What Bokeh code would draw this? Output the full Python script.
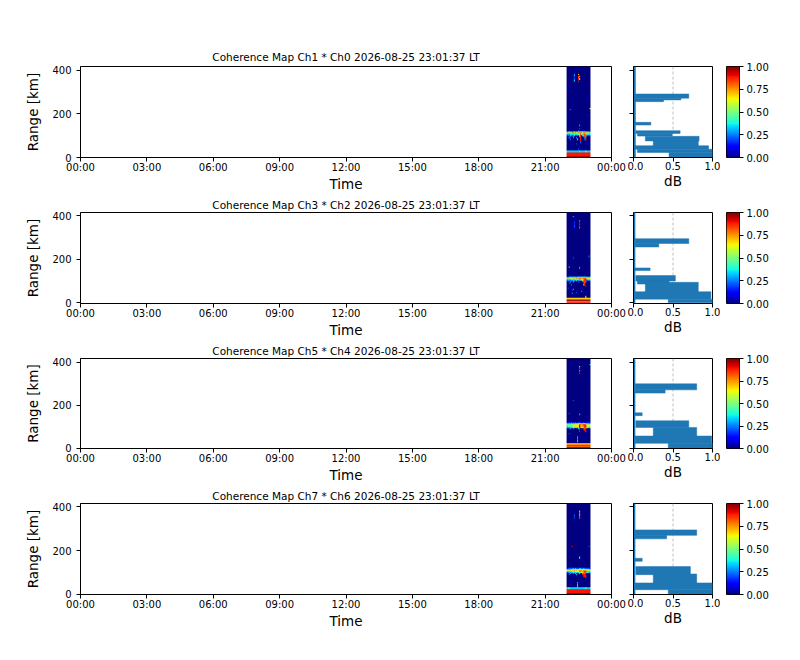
import numpy as np
from bokeh.plotting import figure
from bokeh.layouts import column, row
from bokeh.models import LinearColorMapper, FixedTicker, Span, Range1d, NumeralTickFormatter
from bokeh.embed import file_html
from bokeh.resources import INLINE

FONT = "DejaVu Sans"

# ---------------- data ----------------
hour_ticks = [0, 3, 6, 9, 12, 15, 18, 21, 24]
hour_labels = ["00:00", "03:00", "06:00", "09:00", "12:00", "15:00", "18:00", "21:00", "00:00"]
range_ticks = [0, 200, 400]
db_ticks = [0.0, 0.5, 1.0]
cbar_ticks = [0.0, 0.25, 0.5, 0.75, 1.0]

titles = [
    "Coherence Map Ch1 * Ch0 2026-08-25 23:01:37 LT",
    "Coherence Map Ch3 * Ch2 2026-08-25 23:01:37 LT",
    "Coherence Map Ch5 * Ch4 2026-08-25 23:01:37 LT",
    "Coherence Map Ch7 * Ch6 2026-08-25 23:01:37 LT",
]
y_limits = [(0, 417), (-3, 414), (-1, 418), (-1, 416)]

# time columns of the coherence block (hours) and range gates (km)
block_start_h = 21.97
block_step_h = 0.045
n_cols = 24
gate_km = 5
n_gates = 84

# coherence level per cell, one digit per time column: digit / 9
# rows not listed are background level 0
coh_ch1_ch0 = {
    0: "999999999999999999999999", 1: "888888888888888888888888",
    2: "888888888888888888888888", 3: "888888888888888888888888",
    4: "888888888888888888888888", 5: "333333333333433333633333",
    6: "000000000001000000100000", 7: "000000000002000000000000",
    8: "010000000000000001000000", 9: "000000000000100000000000",
    11: "000100000000000000000100", 12: "000000000200000000000000",
    13: "100000000000020000001000", 14: "000000000000020000000000",
    15: "000000100000080000900000", 16: "000200000030080002800000",
    17: "003000200300180003800100", 18: "100200300000380028710000",
    19: "020320230120380368720200", 20: "232333343334586378733332",
    21: "333343434444676577644333", 22: "566655767667777677766556",
    23: "233332343334445444433322", 24: "001000100002000101000000",
    26: "000000000000200000000000", 28: "000000000000300000000000",
    29: "000000000000200000000000", 30: "000001000000000000000100",
    32: "000000000000100000000000", 35: "010000000000000000000000",
    38: "000000000000000000001000", 43: "000700000000000000000010",
    44: "000000000000000000000060", 46: "000001000000000000000000",
    55: "000000000000000000010000", 62: "010000000000000000000000",
    69: "000000020008000000000000", 70: "000000030009000000000000",
    71: "000000020008600000000000", 72: "000000010007000000000000",
    73: "000000020008600000000000", 74: "000000030009000000000000",
    75: "000000020006000000000000", 76: "000000010000000000000000",
    80: "000000000001000000000000",
}
coh_ch3_ch2 = {
    0: "888888888888888888888888", 1: "777777777777777777777777",
    2: "999999999999999999999999", 3: "777777777777777777777777",
    4: "666666666666666666666666", 5: "000000000000000000600000",
    8: "000003000000000000000000", 9: "000000000200000000000000",
    10: "001000000000003000000000", 11: "000002000010000000000000",
    12: "000000300000000100000000", 13: "020000000000000000000000",
    14: "000100000000000000000000", 15: "000000000000000000800000",
    16: "100020000000000078000000", 17: "002000100000000088100000",
    18: "000300200002000087800000", 19: "120220320201000688710000",
    20: "233233333433546478823332", 21: "333444445444776578844444",
    22: "566665676767777777766665", 23: "223333343334445444433333",
    24: "000100000001000100000000", 31: "000000000000400000000000",
    32: "006000000000200000000000", 40: "000000200000000000000000",
    41: "000000100000000000000200", 42: "000000100000000000000200",
    67: "000000010000000000000000", 68: "000000010000700000000000",
    69: "000000020000800000000000", 70: "000000020000900000000000",
    71: "000000010000800000000000", 72: "000000020000900000000000",
    73: "000000010000800000000000", 74: "000000010000700000000000",
    78: "000000300000000000000000",
}
coh_ch5_ch4 = {
    0: "999999999999999999999999", 1: "777777777777777777777777",
    2: "888888888888888888888888", 3: "777777777777777777777777",
    4: "666666666666666666666666",
    6: "000000000030000000000000", 7: "000000000020000000000000",
    8: "000000000030000000100000", 9: "000000000020000000000000",
    10: "010000000030000000000000", 11: "000000000000100000000000",
    13: "002000000000000000000000", 14: "000000000000000000100000",
    15: "000000000000800000800000", 16: "000000000000900008800000",
    17: "001000100000800088100000", 18: "100300200003800087800000",
    19: "232333443434876678744333", 20: "345444655656976778855555",
    21: "454455666666877788766555", 22: "333343434444544545433333",
    23: "112121212112211121112111", 24: "000000000000000000000100",
    31: "000000000000300000000000", 32: "002000000000200000000000",
    44: "000000200000000000000000", 45: "000000100000000000000000",
    69: "000000000000800000000000", 70: "000000000000900000000000",
    71: "000000000000800000000000", 72: "000000000000700000000000",
    73: "000000000000900000000000", 74: "000000000000800000000000",
    75: "000000000000600000000000", 77: "000000000000000000000030",
}
coh_ch7_ch6 = {
    0: "999999999999999999999999", 1: "888888888888888888888888",
    2: "888888888888888888888888", 3: "888888888888888888888888",
    4: "888888888888888888888888", 5: "344333333333333333633333",
    6: "000000000030000000000000", 7: "000000000030000000000000",
    8: "000000000030000000000000", 9: "000000000020000000000000",
    10: "000000000030000000000000", 11: "000100000000000000000000",
    13: "000000000000100000000000", 14: "000000000000000000100000",
    15: "000000000000000000800000", 16: "000000000000000088800000",
    17: "002000100300100888100000", 18: "000300203000300787800000",
    19: "123233333333545678734322", 20: "333434545555776778843333",
    21: "565566676666777677766556", 22: "333344454445655565444433",
    23: "122222323222332232222211", 24: "011111111111111111111101",
    32: "000000000000300000000000", 33: "000000000000400000000000",
    34: "000000000000200000000000", 43: "000008000000000000000200",
    69: "000000020000700000000000", 70: "000000000000800000000000",
    71: "000000020000700000000000", 72: "000000000000600000000000",
    73: "000000010000800000000000", 74: "000000000000700000000000",
    75: "000000000000600000000000",
}

# profile bands: range bottom/top (km), value low/high
prof_ch1_ch0 = {"r0": [0, 272, 264, 256, 149, 110, 98, 76, 51, 38, 23, 0],
                "r1": [415, 291, 272, 264, 161, 123, 110, 97, 76, 54, 38, 23],
                "lo": [0.0, 0.02, 0.02, 0.02, 0.01, 0.03, 0.05, 0.15, 0.25, 0.02, 0.05, 0.45],
                "hi": [0.025, 0.70, 0.60, 0.38, 0.22, 0.59, 0.49, 0.83, 0.82, 0.95, 1.0, 1.0]}
prof_ch3_ch2 = {"r0": [0, 272, 256, 148, 100, 86, 45, 17, 0],
                "r1": [415, 294, 272, 160, 125, 100, 94, 51, 17],
                "lo": [0.0, 0.02, 0.02, 0.01, 0.03, 0.05, 0.15, 0.02, 0.44],
                "hi": [0.02, 0.70, 0.32, 0.21, 0.53, 0.45, 0.82, 0.98, 1.0]}
prof_ch5_ch4 = {"r0": [0, 272, 257, 152, 97, 51, 23, 0],
                "r1": [415, 300, 272, 165, 128, 97, 57, 23],
                "lo": [0.0, 0.02, 0.02, 0.01, 0.03, 0.25, 0.02, 0.44],
                "hi": [0.02, 0.80, 0.40, 0.11, 0.70, 0.80, 0.99, 1.0]}
prof_ch7_ch6 = {"r0": [0, 270, 254, 151, 90, 44, 21, 0],
                "r1": [415, 295, 270, 165, 127, 93, 52, 21],
                "lo": [0.0, 0.02, 0.02, 0.01, 0.03, 0.25, 0.02, 0.44],
                "hi": [0.02, 0.80, 0.42, 0.11, 0.72, 0.80, 1.0, 1.0]}

coh_maps = [coh_ch1_ch0, coh_ch3_ch2, coh_ch5_ch4, coh_ch7_ch6]
profiles = [prof_ch1_ch0, prof_ch3_ch2, prof_ch5_ch4, prof_ch7_ch6]

# ---------------- colormap (jet) ----------------
def jet_palette(n=256):
    x = np.linspace(0, 1, n)
    r = np.interp(x, [0, 0.35, 0.66, 0.89, 1], [0, 0, 1, 1, 0.5])
    g = np.interp(x, [0, 0.125, 0.375, 0.64, 0.91, 1], [0, 0, 1, 1, 0, 0])
    b = np.interp(x, [0, 0.11, 0.34, 0.65, 1], [0.5, 1, 1, 0, 0])
    return ["#%02x%02x%02x" % (int(round(255 * a)), int(round(255 * c)), int(round(255 * d)))
            for a, c, d in zip(r, g, b)]

JET = jet_palette()


def grid_from_rows(rows):
    arr = np.zeros((n_gates, n_cols))
    for r, s in rows.items():
        arr[r, :] = [int(ch) / 9.0 for ch in s]
    return arr


def style_axes(p):
    p.outline_line_color = "black"
    p.outline_line_alpha = 1.0
    p.outline_line_width = 1
    p.xgrid.visible = False
    p.ygrid.visible = False
    for ax in p.axis:
        ax.axis_line_color = "black"
        ax.major_tick_line_color = "black"
        ax.minor_tick_line_color = None
        ax.major_tick_in = 0
        ax.major_tick_out = 4
        ax.major_label_text_font = FONT
        ax.major_label_text_font_size = "10px"
        ax.major_label_text_color = "black"
        ax.axis_label_text_font = FONT
        ax.axis_label_text_font_size = "13.5px"
        ax.axis_label_text_font_style = "normal"
        ax.axis_label_text_color = "black"


# layout borders (px)
tops = [66, 17, 16, 17]
bottoms = [38, 38, 38, 44]
title_standoffs = [7, 3, 3, 3]
FRAME_H = 91
MAIN_W = 531
PROF_W = 79
CBAR_W = 13
LEFT = 80

rows_out = []
for i in range(4):
    h = tops[i] + FRAME_H + bottoms[i]
    yr = y_limits[i]
    mapper = LinearColorMapper(palette=JET, low=0, high=1)

    # ---- main coherence map ----
    p = figure(width=LEFT + MAIN_W + 16, height=h, x_range=Range1d(0, 24), y_range=Range1d(*yr),
               output_backend="svg", toolbar_location=None, title=titles[i],
               min_border_left=LEFT, min_border_right=16, min_border_top=tops[i],
               min_border_bottom=bottoms[i])
    p.image(image=[grid_from_rows(coh_maps[i])], x=block_start_h, y=0,
            dw=block_step_h * n_cols, dh=gate_km * n_gates, color_mapper=mapper)
    style_axes(p)
    p.xaxis.ticker = FixedTicker(ticks=hour_ticks)
    p.xaxis.major_label_overrides = {t: l for t, l in zip(hour_ticks, hour_labels)}
    p.xaxis.axis_label = "Time"
    p.xaxis.major_label_standoff = 0
    p.xaxis.axis_label_standoff = 0
    p.yaxis.ticker = FixedTicker(ticks=range_ticks)
    p.yaxis.axis_label = "Range [km]"
    p.yaxis.major_label_standoff = 5
    p.yaxis.axis_label_standoff = 8
    p.title.text_font = FONT
    p.title.text_font_size = "10.5px"
    p.title.text_font_style = "normal"
    p.title.text_color = "black"
    p.title.align = "center"
    p.title.standoff = title_standoffs[i]

    # ---- profile ----
    prof = profiles[i]
    q = figure(width=6 + PROF_W + 8, height=h, x_range=Range1d(0, 1), y_range=Range1d(*yr),
               output_backend="svg", toolbar_location=None,
               min_border_left=6, min_border_right=8, min_border_top=tops[i],
               min_border_bottom=bottoms[i])
    q.add_layout(Span(location=0.5, dimension="height", line_color="#b0b0b0",
                      line_dash="3 2", line_width=0.8, level="underlay"))
    q.quad(left=prof["lo"], right=prof["hi"], bottom=prof["r0"], top=prof["r1"],
           fill_color="#1f77b4", line_color="#1f77b4", line_width=0.5)
    style_axes(q)
    q.xaxis.ticker = FixedTicker(ticks=db_ticks)
    q.xaxis.formatter = NumeralTickFormatter(format="0.0")
    q.xaxis.axis_label = "dB"
    q.xaxis.major_label_standoff = 0
    q.xaxis.axis_label_standoff = 0
    q.yaxis.ticker = FixedTicker(ticks=range_ticks)
    q.yaxis.major_label_overrides = {t: "" for t in range_ticks}
    q.yaxis.major_label_standoff = 0

    # ---- colorbar ----
    c = figure(width=6 + CBAR_W + 45, height=h, x_range=Range1d(0, 1), y_range=Range1d(0, 1),
               output_backend="svg", toolbar_location=None, x_axis_location=None,
               y_axis_location="right",
               min_border_left=6, min_border_right=45, min_border_top=tops[i],
               min_border_bottom=bottoms[i])
    c.image(image=[np.linspace(0, 1, 256).reshape(256, 1)], x=0, y=0, dw=1, dh=1,
            color_mapper=mapper)
    style_axes(c)
    c.yaxis.ticker = FixedTicker(ticks=cbar_ticks)
    c.yaxis.formatter = NumeralTickFormatter(format="0.00")
    c.yaxis.major_label_standoff = 3

    rows_out.append(row(p, q, c))

layout = column(*rows_out)
open("out.html", "w").write(file_html(layout, INLINE))
